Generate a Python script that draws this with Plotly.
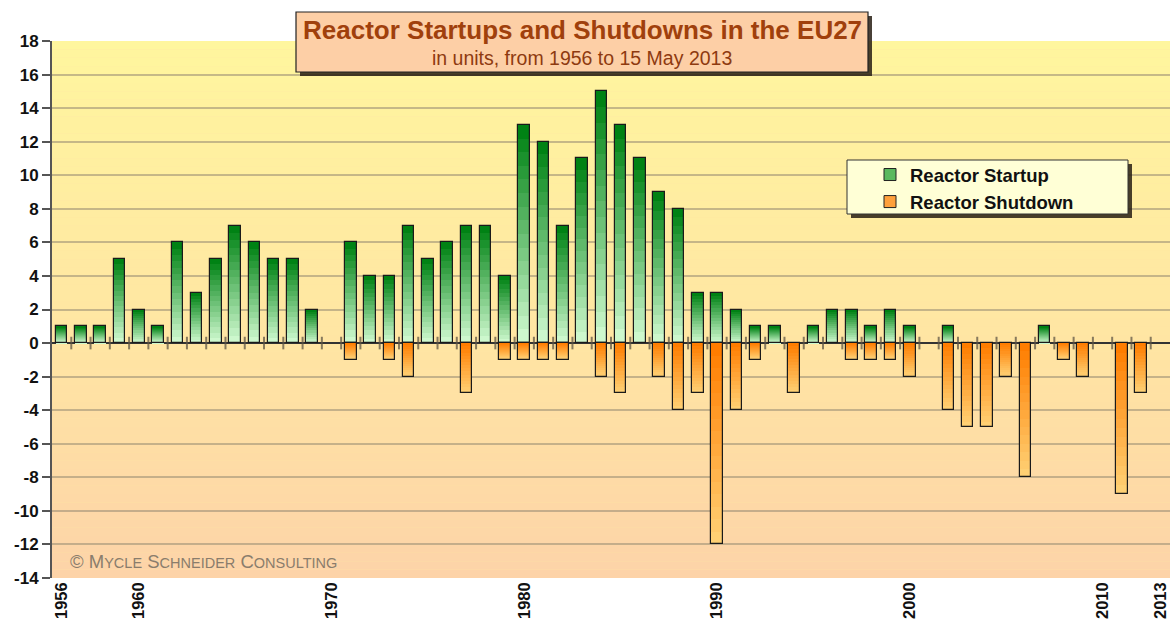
import plotly.graph_objects as go

years = list(range(1956, 2014))
startups = [1, 1, 1, 5, 2, 1, 6, 3, 5, 7, 6, 5, 5, 2,
            0,
            6, 4, 4, 7, 5, 6, 7, 7, 4,
            13, 12, 7, 11, 15, 13, 11, 9, 8, 3,
            3, 2, 1, 1, 0, 1, 2, 2, 1, 2,
            1, 0, 1, 0, 0, 0, 0, 1, 0, 0,
            0, 0, 0, 0]
shutdowns = [0] * 15 + [
            -1, 0, -1, -2, 0, 0, -3, 0, -1,
            -1, -1, -1, 0, -2, -3, 0, -2, -4, -3,
            -12, -4, -1, 0, -3, 0, 0, -1, -1, -1,
            -2, 0, -4, -5, -5, -2, -8, 0, -1, -2,
            0, -9, -3, 0]
tick_years = [1956, 1960, 1970, 1980, 1990, 2000, 2010, 2013]
y_ticks = list(range(-14, 19, 2))

FONT = "Liberation Sans, Arial, sans-serif"
W, H = 1174, 629
ML, MR, MT, MB = 52, 4, 41, 51
PW, PH = W - ML - MR, H - MT - MB


def px_x(x):
    return (x - ML) / PW


def px_y(y):
    return (H - MB - y) / PH


def lerp(c1, c2, t):
    return "rgb(%d,%d,%d)" % tuple(round(a + (b - a) * t) for a, b in zip(c1, c2))


def nz(vals):
    return [v if v else None for v in vals]


fig = go.Figure()

# base traces (carry the legend)
fig.add_bar(x=years, y=nz(startups), name="<b>Reactor Startup</b>", width=0.6,
            marker=dict(color="rgb(90,185,95)", line=dict(color="#222", width=1)),
            hoverinfo="x+y")
fig.add_bar(x=years, y=nz(shutdowns), name="<b>Reactor Shutdown</b>", width=0.6,
            marker=dict(color="rgb(255,160,60)", line=dict(color="#222", width=1)),
            hoverinfo="x+y")

# gradient overlays
N = 16
g_light, g_dark = (205, 248, 205), (0, 130, 20)
o_dark, o_light = (255, 125, 0), (255, 208, 115)
for k in range(N):
    t = k / (N - 1)
    fig.add_bar(x=years, y=[v / N if v else None for v in startups],
                base=[v * k / N for v in startups], width=0.6,
                marker=dict(color=lerp(g_light, g_dark, t), line=dict(width=0)),
                showlegend=False, hoverinfo="skip")
    fig.add_bar(x=years, y=[v / N if v else None for v in shutdowns],
                base=[v * k / N for v in shutdowns], width=0.6,
                marker=dict(color=lerp(o_dark, o_light, t), line=dict(width=0)),
                showlegend=False, hoverinfo="skip")

# outlines
for vals in (startups, shutdowns):
    fig.add_bar(x=years, y=nz(vals), width=0.6,
                marker=dict(color="rgba(0,0,0,0)", line=dict(color="#1a1a1a", width=1.2)),
                showlegend=False, hoverinfo="skip")

# category boundary marks on the zero line
fig.add_trace(go.Scatter(x=[y + 0.5 for y in years[:-1]], y=[0] * (len(years) - 1),
                         mode="markers", showlegend=False, hoverinfo="skip",
                         marker=dict(symbol="line-ns", size=9,
                                     line=dict(color="rgba(95,85,70,0.75)", width=2))))

shapes = []
# background gradient
S = 64
top_c, mid_c, bot_c = (255, 246, 158), (255, 229, 163), (253, 211, 168)
for i in range(S):
    f = (i + 0.5) / S  # 0 bottom, 1 top
    if f > 0.44:
        c = lerp(mid_c, top_c, (f - 0.44) / 0.56)
    else:
        c = lerp(bot_c, mid_c, f / 0.44)
    shapes.append(dict(type="rect", xref="paper", yref="paper", x0=0, x1=1,
                       y0=i / S, y1=(i + 1) / S, fillcolor=c, line=dict(width=0),
                       layer="below"))

# title box with shadow
tx0, tx1, ty0, ty1 = px_x(296), px_x(868), px_y(72), px_y(12)
dx, dy = 4 / PW, 4 / PH
shapes.append(dict(type="rect", xref="paper", yref="paper", x0=tx0 + dx, x1=tx1 + dx,
                   y0=ty0 - dy, y1=ty1 - dy, fillcolor="rgba(40,30,20,0.85)",
                   line=dict(width=0), layer="above"))
shapes.append(dict(type="rect", xref="paper", yref="paper", x0=tx0, x1=tx1, y0=ty0, y1=ty1,
                   fillcolor="#fdcfa6", line=dict(color="#222", width=1.2), layer="above"))

# legend box with shadow
lx0, lx1, ly0, ly1 = px_x(847), px_x(1128), px_y(214), px_y(160)
shapes.append(dict(type="rect", xref="paper", yref="paper", x0=lx0 + dx, x1=lx1 + dx,
                   y0=ly0 - dy, y1=ly1 - dy, fillcolor="rgba(40,30,20,0.85)",
                   line=dict(width=0), layer="above"))
shapes.append(dict(type="rect", xref="paper", yref="paper", x0=lx0, x1=lx1, y0=ly0, y1=ly1,
                   fillcolor="#ffffd6", line=dict(color="#333", width=1), layer="above"))

annotations = [
    dict(text="<b>Reactor Startups and Shutdowns in the EU27</b>", x=px_x(582), y=px_y(30),
         xref="paper", yref="paper", showarrow=False, xanchor="center", yanchor="middle",
         font=dict(family=FONT, size=26, color="#a0400c")),
    dict(text="in units, from 1956 to 15 May 2013", x=px_x(582), y=px_y(58),
         xref="paper", yref="paper", showarrow=False, xanchor="center", yanchor="middle",
         font=dict(family=FONT, size=19.5, color="#8e3a10")),
    dict(text=("© M<span style='font-size:14.5px'>YCLE</span> S<span style='font-size:14.5px'>CHNEIDER</span>"
               " C<span style='font-size:14.5px'>ONSULTING</span>"),
         x=px_x(68), y=px_y(561), xref="paper", yref="paper", showarrow=False,
         xanchor="left", yanchor="middle",
         font=dict(family=FONT, size=18.5, color="#8a7d6c")),
]

fig.update_layout(
    width=W, height=H,
    margin=dict(l=ML, r=MR, t=MT, b=MB, pad=0),
    paper_bgcolor="white", plot_bgcolor="#ffe4a4",
    barmode="overlay", bargap=0,
    shapes=shapes, annotations=annotations,
    showlegend=True,
    legend=dict(x=px_x(870), y=px_y(156), xanchor="left", yanchor="top",
                bgcolor="rgba(0,0,0,0)", borderwidth=0, tracegroupgap=0,
                font=dict(family=FONT, size=18.5, color="#111"), itemwidth=30),
    font=dict(family=FONT),
)
fig.update_xaxes(range=[1955.5, 2013.5], tickmode="array", tickvals=tick_years,
                 ticktext=["<b>%d</b>" % y for y in tick_years], tickangle=-90,
                 tickfont=dict(family=FONT, size=16.5, color="#111"),
                 showgrid=False, zeroline=False, showline=False, ticks="")
fig.update_yaxes(range=[-14, 18], tickmode="array", tickvals=y_ticks,
                 ticktext=["<b>%d</b>" % v for v in y_ticks],
                 tickfont=dict(family=FONT, size=17, color="#111"),
                 showgrid=True, gridcolor="rgba(150,138,115,0.55)", gridwidth=2,
                 zeroline=True, zerolinecolor="#333", zerolinewidth=1.5,
                 showline=True, linecolor="#555", linewidth=2,
                 ticks="outside", ticklen=8, tickcolor="#555", tickwidth=2)

fig.write_html("out.html", config={"displayModeBar": False},
               post_script="document.body.style.margin='0px';")
